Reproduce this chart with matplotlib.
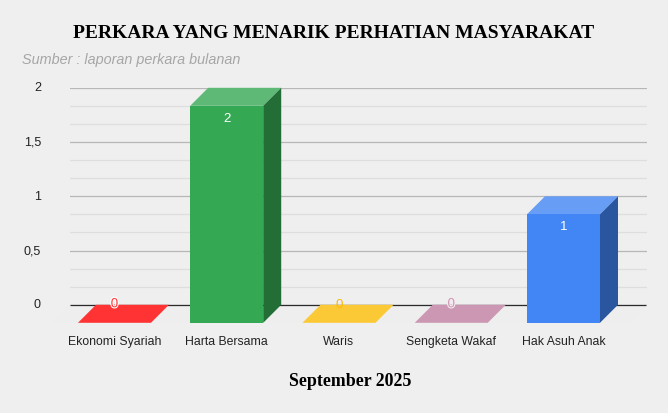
import matplotlib
matplotlib.use("Agg")
import matplotlib.pyplot as plt
import matplotlib.patheffects as pe
from matplotlib.patches import Polygon
from matplotlib.transforms import ScaledTranslation

# data
categories = ["Ekonomi Syariah", "Harta Bersama", "Waris", "Sengketa Wakaf", "Hak Asuh Anak"]
values = [0, 2, 0, 0, 1]
labels = ["0", "2", "0", "0", "1"]
front_colors = ["#ff3333", "#34a853", "#fbc935", "#cc97b2", "#4285f4"]
top_colors = ["#ff3333", "#5db975", "#fbc935", "#cc97b2", "#689df6"]
side_colors = ["#b32424", "#236e37", "#b08d25", "#8f6a7d", "#2a56a0"]
label_colors = ["#ff3333", "#ffffff", "#fbb80a", "#cc97b2", "#ffffff"]
halo_colors = ["#ffffff", None, None, "#f4eaef", None]
y_ticks = [0, 0.5, 1, 1.5, 2]
y_tick_labels = ["0", "0,5", "1", "1,5", "2"]
minor_ticks = [1/6, 2/6, 4/6, 5/6, 7/6, 8/6, 10/6, 11/6]

W, H = 668, 414
BG = "#efefef"
SERIF = "Liberation Serif"
SANS = "Liberation Sans"

fig = plt.figure(figsize=(W/100, H/100), dpi=100, facecolor=BG)
# plot area in pixels: x 70-647, y 88.8 (value 2) to 305.8 (value 0)
ax = fig.add_axes([70/W, 1-305.8/H, 577/W, 217/H], facecolor="none")
ax.set_xlim(-0.396, 4.744)
ax.set_ylim(0, 2)

px_x = 112.25      # pixels per category
px_y = 108.5       # pixels per unit
dx = 18/px_x       # depth of the 3d bars
dy = 18/px_y
bw = 73/px_x

for s in ax.spines.values():
    s.set_visible(False)
ax.set_yticks(y_ticks, y_tick_labels)
ax.set_yticks(minor_ticks, minor=True)
ax.tick_params(axis="y", which="both", length=0)
ax.tick_params(axis="y", labelsize=9, pad=21, labelcolor="#222222")
up = ScaledTranslation(0, 2/100, fig.dpi_scale_trans)
for lbl in ax.get_yticklabels():
    lbl.set_family(SANS)
    lbl.set_horizontalalignment("right")
    lbl.set_transform(lbl.get_transform() + up)
ax.grid(True, which="major", axis="y", color="#b7b7b7", lw=0.9, zorder=0)
ax.grid(True, which="minor", axis="y", color="#dedede", lw=0.9, zorder=0)
ax.set_axisbelow(True)

# faint floor under the bars
ax.add_patch(Polygon([(-0.396, 0), (4.744, 0), (4.744-dx, -dy), (-0.396-dx, -dy)],
                     closed=True, fc="#eeeeee", ec="none", zorder=1, clip_on=False))
ax.axhline(0, xmax=0.999, color="#2a2a2a", lw=0.9, zorder=2, clip_on=False, solid_capstyle="butt")

for i, v in enumerate(values):
    x0 = i - bw/2
    x1 = i + bw/2
    # top face
    ax.add_patch(Polygon([(x0, v-dy), (x1, v-dy), (x1+dx, v), (x0+dx, v)], closed=True,
                         fc=top_colors[i], ec="none", zorder=3, clip_on=False))
    if v > 0:
        ax.add_patch(Polygon([(x1, -dy), (x1+dx, 0), (x1+dx, v), (x1, v-dy)], closed=True,
                             fc=side_colors[i], ec="none", zorder=3, clip_on=False))
        ax.add_patch(Polygon([(x0, -dy), (x1, -dy), (x1, v-dy), (x0, v-dy)], closed=True,
                             fc=front_colors[i], ec="none", zorder=4, clip_on=False))
    off = -30 if v > 0 else 0.5
    t = ax.annotate(labels[i], (i, v), xytext=(0, off*0.72), textcoords="offset points",
                    ha="center", va="center", fontsize=9.6, family=SANS,
                    color=label_colors[i], zorder=5, annotation_clip=False)
    if halo_colors[i]:
        t.set_path_effects([pe.withStroke(linewidth=1.6, foreground=halo_colors[i])])

ax.set_xticks(range(len(categories)), categories)
ax.tick_params(axis="x", length=0, labelsize=8.8, pad=21.5, labelcolor="#222222")
for lbl in ax.get_xticklabels():
    lbl.set_family(SANS)

fig.text(334/W, 1-33/H, "PERKARA YANG MENARIK PERHATIAN MASYARAKAT", ha="center", va="center",
         family=SERIF, weight="bold", fontsize=14, color="#000000")
fig.text(22/W, 1-60/H, "Sumber : laporan perkara bulanan", ha="left", va="center",
         family=SANS, style="italic", fontsize=10.4, color="#a6a6a6")
fig.text(350.5/W, 1-382/H, "September 2025", ha="center", va="center",
         family=SERIF, weight="bold", fontsize=12.9, color="#000000")

fig.savefig("out.png", dpi=100, facecolor=BG)
